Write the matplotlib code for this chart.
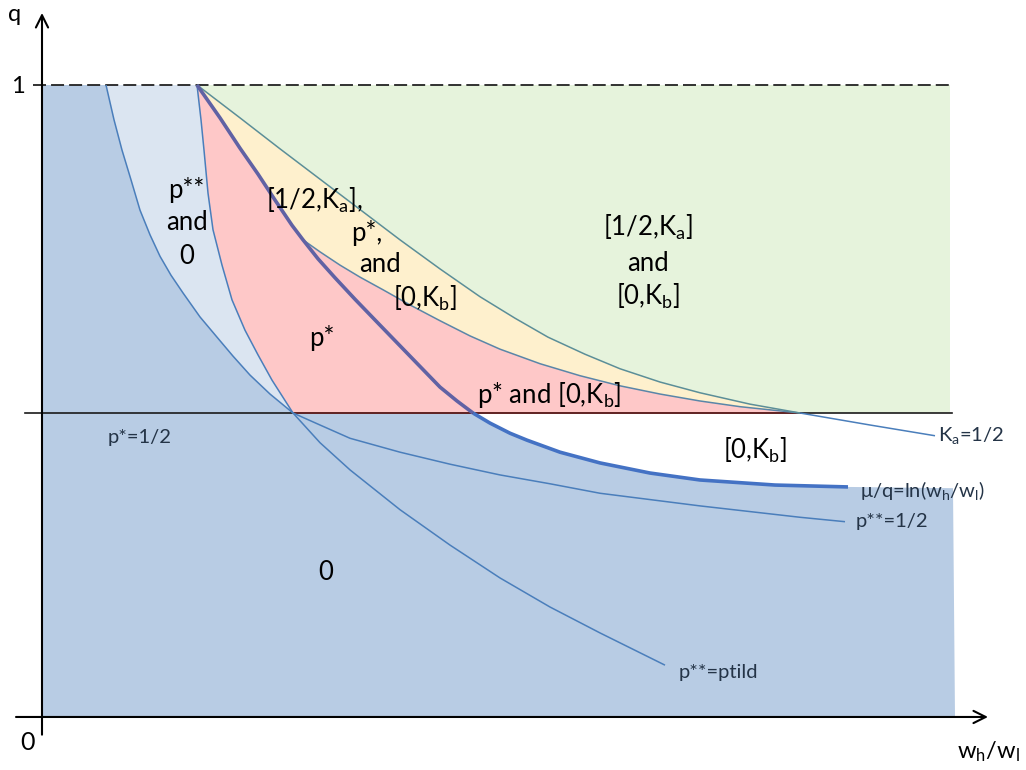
import matplotlib
matplotlib.use("Agg")
import matplotlib.pyplot as plt

plt.rcParams['font.family'] = ['Lato', 'DejaVu Sans']
plt.rcParams['mathtext.fontset'] = 'custom'
plt.rcParams['mathtext.rm'] = 'Lato'
plt.rcParams['mathtext.it'] = 'Lato'
plt.rcParams['mathtext.default'] = 'regular'

# ---------------- data (x = w_h/w_l, arbitrary units; q in [0,1]) ----------------
Q_TOP = 1.0           # q = 1 (dashed)
Q_HALF = 0.481        # p* = 1/2 level

# p**=1/2 curve
a_x = [0.64, 0.72, 0.80, 0.89, 0.98, 1.08, 1.18, 1.29, 1.41, 1.58, 1.75, 1.91, 2.08, 2.28, 2.51,
       2.78, 3.08, 3.58, 4.08, 4.58, 5.08, 5.58, 6.58, 7.58, 8.03]
a_q = [1.000, 0.945, 0.897, 0.850, 0.802, 0.763, 0.729, 0.699, 0.671, 0.633, 0.601, 0.571, 0.541, 0.511, 0.481,
       0.462, 0.441, 0.419, 0.400, 0.383, 0.369, 0.354, 0.334, 0.316, 0.309]
# p**=ptild curve
b_x = [1.55, 1.59, 1.62, 1.66, 1.71, 1.80, 1.90, 2.03, 2.16, 2.30, 2.51,
       2.78, 3.08, 3.58, 4.08, 4.58, 5.08, 5.58, 6.23]
b_q = [1.000, 0.945, 0.897, 0.829, 0.771, 0.715, 0.660, 0.612, 0.573, 0.533, 0.481,
       0.434, 0.391, 0.328, 0.272, 0.220, 0.174, 0.133, 0.082]
# mu/q = ln(w_h/w_l) curve
d_x = [1.55, 1.78, 1.98, 2.16, 2.33, 2.50, 2.61, 2.76, 2.93, 3.13, 3.38, 3.68, 3.98, 4.15, 4.31,
       4.48, 4.68, 4.85, 5.18, 5.58, 6.08, 6.58, 7.33, 8.06]
d_q = [1.000, 0.948, 0.900, 0.859, 0.818, 0.778, 0.755, 0.725, 0.695, 0.661, 0.620, 0.571, 0.522, 0.500, 0.481,
       0.465, 0.449, 0.438, 0.419, 0.402, 0.386, 0.375, 0.367, 0.364]
# K_a = 1/2 curve
e_x = [1.55, 1.98, 2.38, 2.88, 3.58, 3.98, 4.38, 4.73, 5.06, 5.43, 5.78, 6.18, 6.58, 7.08, 7.58, 8.28, 8.93]
e_q = [1.000, 0.948, 0.899, 0.839, 0.755, 0.709, 0.665, 0.631, 0.601, 0.574, 0.551, 0.530, 0.513, 0.495, 0.481,
       0.462, 0.445]
# lower boundary of the yellow region
c_x = [2.61, 2.78, 2.98, 3.18, 3.41, 3.68, 3.98, 4.28, 4.58, 4.98, 5.38, 5.78, 6.18, 6.58, 6.98, 7.28, 7.58]
c_q = [0.755, 0.736, 0.715, 0.696, 0.676, 0.652, 0.627, 0.603, 0.582, 0.559, 0.540, 0.524, 0.511, 0.500,
       0.491, 0.486, 0.481]

X_RIGHT_GREEN = 9.08
X_RIGHT_BLUE = 9.11
X_RIGHT_BLUE_BOTTOM = 9.13

region_labels = ["p**", "and", "0", "[1/2,K$_a$],", "p*,", "and", "[0,K$_b$]", "p*",
                 "p* and [0,K$_b$]", "[1/2,K$_a$]", "and", "[0,K$_b$]", "[0,K$_b$]", "0"]
curve_labels = ["p*=1/2", "K$_a$=1/2", "μ/q=ln(w$_h$/w$_l$)", "p**=1/2", "p**=ptild"]

# ---------------- colors ----------------
C_DARK = '#b8cce4'
C_LIGHT = '#dbe5f1'
C_PINK = '#fec8c8'
C_YELLOW = '#fef0cd'
C_GREEN = '#e6f3dc'
C_LINE = '#4a7ebb'
C_TEAL = '#5b8e98'
C_LABEL = '#243447'

fig = plt.figure(figsize=(10.26, 7.70), dpi=100)
ax = fig.add_axes([0, 0, 1, 1])
ax.set_xlim(-0.42, 9.84)
ax.set_ylim(-0.0839, 1.1345)
ax.axis('off')

ia = a_x.index(2.51)
ib = b_x.index(2.51)
id_ = d_x.index(4.31)
idc = d_x.index(2.61)
ie = e_x.index(7.58)

# dark blue region
px = [0] + a_x[:ia + 1] + d_x[id_:] + [X_RIGHT_BLUE, X_RIGHT_BLUE_BOTTOM, 0]
py = [Q_TOP] + a_q[:ia + 1] + d_q[id_:] + [d_q[-1] - 0.002, 0, 0]
ax.fill(px, py, color=C_DARK, lw=0, zorder=1)

# light blue region
px = a_x[:ia + 1][::-1] + b_x[:ib + 1]
py = a_q[:ia + 1][::-1] + b_q[:ib + 1]
ax.fill(px, py, color=C_LIGHT, lw=0, zorder=1)

# pink region
px = b_x[:ib + 1] + [c_x[-1]] + c_x[::-1] + d_x[:idc + 1][::-1]
py = b_q[:ib + 1] + [Q_HALF] + c_q[::-1] + d_q[:idc + 1][::-1]
ax.fill(px, py, color=C_PINK, lw=0, zorder=1)

# yellow region
px = d_x[:idc + 1] + c_x + e_x[:ie + 1][::-1]
py = d_q[:idc + 1] + c_q + e_q[:ie + 1][::-1]
ax.fill(px, py, color=C_YELLOW, lw=0, zorder=1)

# green region
px = e_x[:ie + 1] + [X_RIGHT_GREEN, X_RIGHT_GREEN]
py = e_q[:ie + 1] + [Q_HALF, Q_TOP]
ax.fill(px, py, color=C_GREEN, lw=0, zorder=1)

# reference lines
ax.plot([-0.09, X_RIGHT_BLUE], [Q_TOP, Q_TOP], color='#222222', lw=1.3,
        dashes=(7.2, 2.8), zorder=3)
ax.plot([-0.17, 9.10], [Q_HALF, Q_HALF], color='#1a1a1a', lw=1.2, zorder=3)
ax.plot([b_x[ib], c_x[-1]], [Q_HALF, Q_HALF], color='#6b2222', lw=1.2, zorder=3)

# curves
kw = dict(solid_joinstyle='round', solid_capstyle='butt')
ax.plot(a_x, a_q, color=C_LINE, lw=1.1, zorder=4, **kw)
ax.plot(b_x, b_q, color=C_LINE, lw=1.1, zorder=4, **kw)
ax.plot(c_x, c_q, color='#5a86a8', lw=1.1, zorder=4, **kw)
ax.plot(e_x[:ie + 1], e_q[:ie + 1], color=C_TEAL, lw=1.1, zorder=4, **kw)
ax.plot(e_x[ie:], e_q[ie:], color=C_LINE, lw=1.1, zorder=4, **kw)
ax.plot(d_x[:id_ + 1], d_q[:id_ + 1], color='#6062a4', lw=2.6, zorder=5, **kw)
ax.plot(d_x[id_:], d_q[id_:], color='#4472c4', lw=2.6, zorder=5, **kw)

# axes with arrows
ax.annotate('', xy=(9.46, 0), xytext=(-0.26, 0),
            arrowprops=dict(arrowstyle='->', lw=1.5, color='black',
                            mutation_scale=22, shrinkA=0, shrinkB=0), zorder=6)
ax.annotate('', xy=(0, 1.114), xytext=(0, -0.028),
            arrowprops=dict(arrowstyle='->', lw=1.5, color='black',
                            mutation_scale=22, shrinkA=0, shrinkB=0), zorder=6)

ax.text(-0.27, 1.111, 'q', fontsize=17, ha='center', va='center')
ax.text(-0.24, 0.997, '1', fontsize=17, ha='center', va='center')
ax.text(-0.15, -0.040, '0', fontsize=18, ha='center', va='center')
ax.text(9.46, -0.055, 'w$_h$/w$_l$', fontsize=17, ha='center', va='center')

# region labels
label_pos = [(1.44, 0.834), (1.45, 0.782), (1.45, 0.728),
             (2.72, 0.818), (3.25, 0.766), (3.38, 0.716), (3.83, 0.663), (2.80, 0.600),
             (5.07, 0.509), (6.06, 0.774), (6.06, 0.718), (6.06, 0.665),
             (7.13, 0.422), (2.84, 0.228)]
for txt, (x, y) in zip(region_labels, label_pos):
    ax.text(x, y, txt, fontsize=18.5, ha='center', va='center', color='black', zorder=7)

curve_pos = [(0.98, 0.443, 'center'), (8.96, 0.445, 'left'), (8.18, 0.359, 'left'),
             (8.14, 0.309, 'left'), (6.37, 0.070, 'left')]
for txt, (x, y, ha) in zip(curve_labels, curve_pos):
    ax.text(x, y, txt, fontsize=14.5, ha=ha, va='center', color=C_LABEL, zorder=7)

fig.savefig('out.png', dpi=100)
